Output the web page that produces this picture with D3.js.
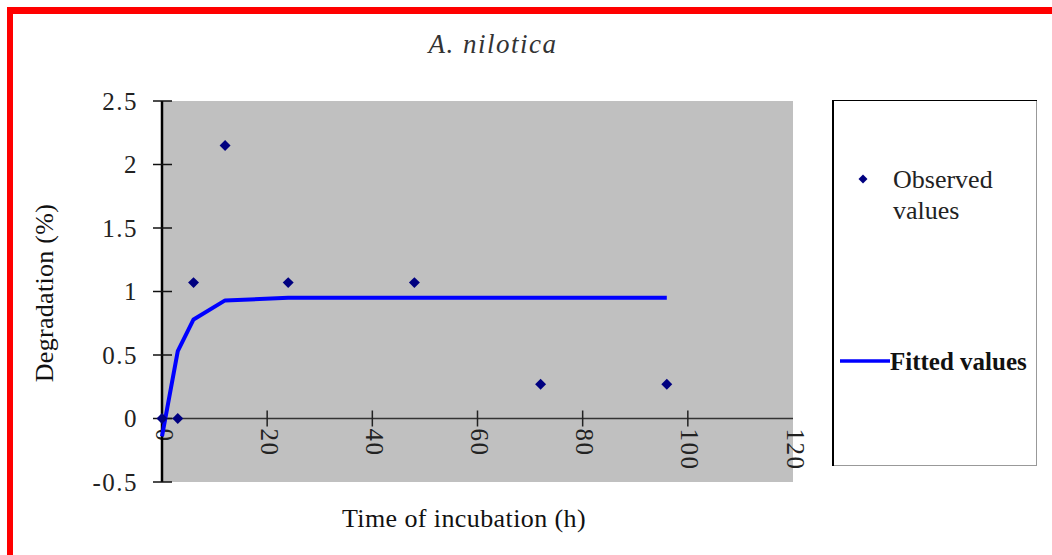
<!DOCTYPE html>
<html>
<head>
<meta charset="utf-8">
<script src="https://cdn.jsdelivr.net/npm/d3@7"></script>
<style>
  html, body { margin: 0; padding: 0; background: #fff; }
  svg { display: block; }
  text { font-family: "Liberation Serif", "Times New Roman", serif; }
</style>
</head>
<body>
<svg id="chart" width="1052" height="555"></svg>
<script>
// ---- data ----
const chartTitle = "A. nilotica";
const xAxisTitle = "Time of incubation (h)";
const yAxisTitle = "Degradation (%)";
const observedX = [0, 3, 6, 12, 24, 48, 72, 96];
const observedY = [0, 0, 1.07, 2.15, 1.07, 1.07, 0.27, 0.27];
const fittedX = [0, 3, 6, 12, 24, 48, 72, 96];
const fittedY = [-0.14, 0.53, 0.78, 0.93, 0.95, 0.95, 0.95, 0.95];
const xTicks = [0, 20, 40, 60, 80, 100, 120];
const yTicks = [-0.5, 0, 0.5, 1, 1.5, 2, 2.5];
const legendLabels = ["Observed values", "Fitted values"];

// ---- layout ----
const svg = d3.select("#chart");
const plot = { left: 162, right: 793, top: 101, bottom: 482 };

const x = d3.scaleLinear().domain([0, 120]).range([plot.left, plot.right]);
const y = d3.scaleLinear().domain([-0.5, 2.5]).range([plot.bottom, plot.top]);

// red frame (top and left only)
svg.append("rect").attr("x", 7).attr("y", 7).attr("width", 1052 - 7).attr("height", 7).attr("fill", "#ff0000");
svg.append("rect").attr("x", 7).attr("y", 7).attr("width", 6).attr("height", 555 - 7).attr("fill", "#ff0000");

// plot background
svg.append("rect")
  .attr("x", plot.left).attr("y", plot.top)
  .attr("width", plot.right - plot.left).attr("height", plot.bottom - plot.top)
  .attr("fill", "#c0c0c0");

// x axis at y = 0
const xAxisG = svg.append("g").attr("transform", `translate(0,${y(0)})`);
xAxisG.append("line")
  .attr("x1", plot.left).attr("x2", plot.right)
  .attr("y1", 0).attr("y2", 0)
  .attr("stroke", "#333").attr("stroke-width", 1.5);
xAxisG.selectAll("line.tick").data(xTicks.filter(d => d > 0 && d < 120)).enter()
  .append("line").attr("class", "tick")
  .attr("x1", d => x(d)).attr("x2", d => x(d))
  .attr("y1", -8).attr("y2", 8)
  .attr("stroke", "#222").attr("stroke-width", 1.5);
xAxisG.selectAll("text").data(xTicks).enter()
  .append("text")
  .attr("transform", d => `translate(${x(d) + 2},10) rotate(90)`)
  .attr("dominant-baseline", "central")
  .attr("text-anchor", "start")
  .attr("font-size", 25)
  .attr("letter-spacing", 1.5)
  .attr("fill", "#222")
  .text(d => d);

// y axis
const yAxisG = svg.append("g");
yAxisG.append("line")
  .attr("x1", plot.left).attr("x2", plot.left)
  .attr("y1", plot.top).attr("y2", plot.bottom)
  .attr("stroke", "#000").attr("stroke-width", 2.5);
yAxisG.selectAll("line.tick").data(yTicks).enter()
  .append("line").attr("class", "tick")
  .attr("x1", plot.left - 9).attr("x2", plot.left + 10)
  .attr("y1", d => y(d)).attr("y2", d => y(d))
  .attr("stroke", "#111").attr("stroke-width", 1.5);
yAxisG.selectAll("text").data(yTicks).enter()
  .append("text")
  .attr("x", 138)
  .attr("y", d => y(d))
  .attr("dy", "0.35em")
  .attr("text-anchor", "end")
  .attr("font-size", 25)
  .attr("letter-spacing", 1.5)
  .attr("fill", "#222")
  .text(d => d);

// fitted line
const line = d3.line().x(d => x(d[0])).y(d => y(d[1]));
svg.append("path")
  .datum(fittedX.map((d, i) => [d, fittedY[i]]))
  .attr("d", line)
  .attr("fill", "none")
  .attr("stroke", "#0000ff")
  .attr("stroke-width", 4)
  .attr("stroke-linejoin", "round");

// observed points
const diamond = d3.symbol(d3.symbolSquare, 60);
svg.selectAll("path.obs").data(observedX.map((d, i) => [d, observedY[i]])).enter()
  .append("path").attr("class", "obs")
  .attr("d", diamond)
  .attr("transform", d => `translate(${x(d[0])},${y(d[1])}) rotate(45)`)
  .attr("fill", "#000080");

// titles
svg.append("text")
  .attr("x", 493).attr("y", 53)
  .attr("text-anchor", "middle")
  .attr("font-size", 27)
  .attr("font-style", "italic")
  .attr("letter-spacing", 1.5)
  .attr("fill", "#333")
  .text(chartTitle);

svg.append("text")
  .attr("x", 464).attr("y", 527)
  .attr("text-anchor", "middle")
  .attr("font-size", 26)
  .attr("letter-spacing", 0.4)
  .attr("fill", "#111")
  .text(xAxisTitle);

svg.append("text")
  .attr("transform", "translate(53,293) rotate(-90)")
  .attr("text-anchor", "middle")
  .attr("font-size", 26)
  .attr("letter-spacing", 0.3)
  .attr("fill", "#111")
  .text(yAxisTitle);

// legend
const lg = svg.append("g");
lg.append("rect")
  .attr("x", 832.5).attr("y", 100.5).attr("width", 204).attr("height", 365)
  .attr("fill", "#fff").attr("stroke", "#999").attr("stroke-width", 1);
lg.append("line").attr("x1", 833).attr("x2", 833).attr("y1", 100).attr("y2", 466)
  .attr("stroke", "#000").attr("stroke-width", 2);
lg.append("line").attr("x1", 832).attr("x2", 1037).attr("y1", 100.5).attr("y2", 100.5)
  .attr("stroke", "#000").attr("stroke-width", 1);

lg.append("path")
  .attr("d", d3.symbol(d3.symbolSquare, 40))
  .attr("transform", "translate(863,179) rotate(45)")
  .attr("fill", "#000080");
const obsText = lg.append("text")
  .attr("font-size", 26)
  .attr("fill", "#222");
const parts = legendLabels[0].split(" ");
obsText.append("tspan").attr("x", 893).attr("y", 188).text(parts[0]);
obsText.append("tspan").attr("x", 893).attr("y", 219).text(parts.slice(1).join(" "));

lg.append("line")
  .attr("x1", 840).attr("x2", 890).attr("y1", 361).attr("y2", 361)
  .attr("stroke", "#0000ff").attr("stroke-width", 3.5);
lg.append("text")
  .attr("x", 890).attr("y", 370)
  .attr("font-size", 25)
  .attr("font-weight", "bold")
  .attr("fill", "#111")
  .text(legendLabels[1]);
</script>
</body>
</html>
